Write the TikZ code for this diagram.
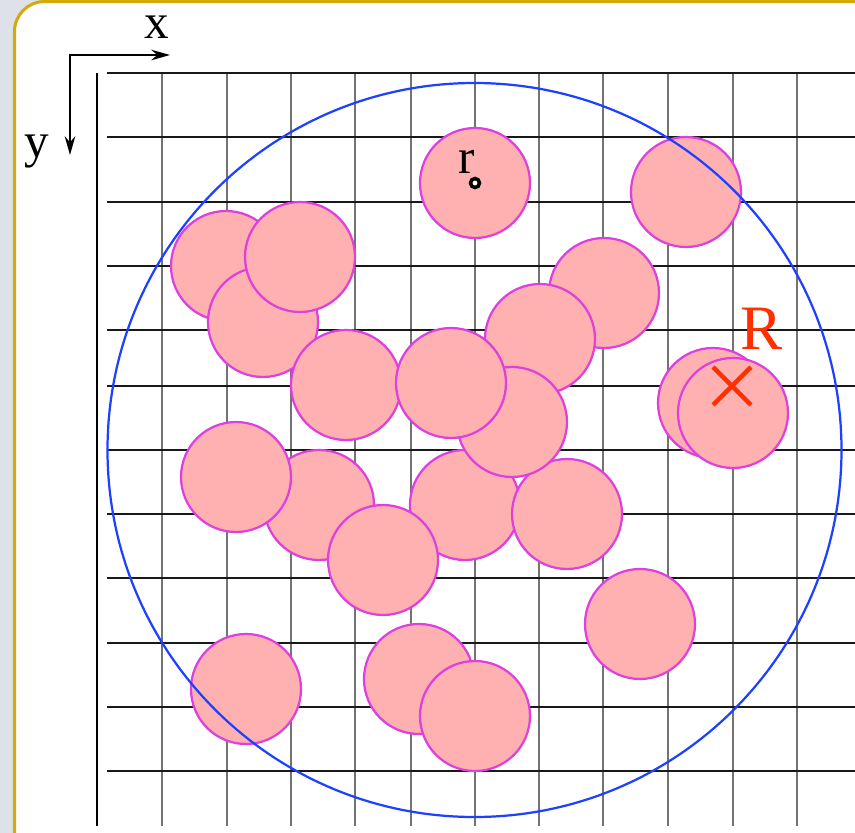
\documentclass[tikz,border=0pt]{standalone}
\usepackage{fontspec}
\setmainfont{Liberation Serif}
\usetikzlibrary{arrows.meta,shapes.misc}

\definecolor{discfill}{RGB}{255,176,176}
\definecolor{discline}{RGB}{222,64,222}
\definecolor{ringblue}{RGB}{30,64,255}
\definecolor{framegold}{RGB}{212,170,10}
\definecolor{backgray}{RGB}{222,226,232}
\definecolor{markred}{RGB}{255,48,0}

\tikzset{
  disc/.style={circle, draw=discline, fill=discfill, line width=1.9pt,
    minimum size=3.3cm, inner sep=0pt},
  hline/.style={black!90, line width=0.9pt},
  vline/.style={black!55, line width=1.2pt},
  bigtext/.style={font=\fontsize{42}{46}\selectfont, anchor=base, inner sep=0pt},
}

\begin{document}
\begin{tikzpicture}[x=0.03cm, y=-0.03cm]

% Page and frame
\useasboundingbox (0,0) rectangle (855,833);
\fill[backgray] (0,0) rectangle (855,833);
\begin{scope}
  \clip (0,0) rectangle (855,833);
  \draw[framegold, line width=2.6pt, fill=white, rounded corners=0.9cm]
    (14.5,1.5) rectangle (900,900);
\end{scope}

% Grid
\draw[hline, black] (97,73) -- (97,826);
\foreach \gx in {162,227,291,355,411,475,539,603,668,733,797}
  \draw[vline] (\gx,73) -- (\gx,826);
\foreach \gy in {73,137,202,266,330,386,450,514,578,643,707,771}
  \draw[hline] (107,\gy) -- (855,\gy);

% Axes
\coordinate (origin) at (70,55);
\coordinate (xend) at (170,55);
\coordinate (yend) at (70,155);
\draw[{Stealth[length=16pt,width=9pt]}-{Stealth[length=16pt,width=9pt]}, line width=1.9pt]
  (yend) |- (xend);
\node[bigtext] (xlab) at (157,38) {x};
\node[bigtext] (ylab) at (37,157) {y};

% Particles
\node[disc] (d1) at (475,183) {};
\node[disc] (d2) at (686,192) {};
\node[disc] (d3) at (604,293) {};
\node[disc] (d4) at (540,339) {};
\node[disc] (d5) at (226,266) {};
\node[disc] (d6) at (263,322) {};
\node[disc] (d7) at (300,257) {};
\node[disc] (d8) at (346,385) {};
\node[disc] (d9) at (319,505) {};
\node[disc] (d10) at (236,477) {};
\node[disc] (d11) at (465,505) {};
\node[disc] (d12) at (567,514) {};
\node[disc] (d13) at (383,560) {};
\node[disc] (d14) at (512,422) {};
\node[disc] (d15) at (451,383) {};
\node[disc] (d16) at (713,403) {};
\node[disc] (d17) at (733,413) {};
\node[disc] (d18) at (640,624) {};
\node[disc] (d19) at (246,689) {};
\node[disc] (d20) at (419,679) {};
\node[disc] (d21) at (475,716) {};

% Sampling region
\draw[ringblue, line width=1.9pt] (474.5,450) circle [radius=367];

% Labels
\node[circle, draw, fill=white, line width=3pt, minimum size=0.27cm, inner sep=0pt]
  (rdot) at (475,183) {};
\node[bigtext] (rlab) at (467,173) {r};
\node[cross out, draw=markred, line width=3.8pt, minimum size=1.0cm, inner sep=0pt]
  (Rmark) at (732,386) {};
\node[bigtext, markred, font=\fontsize{54}{58}\selectfont] (Rlab) at (762,349) {R};

\end{tikzpicture}
\end{document}
